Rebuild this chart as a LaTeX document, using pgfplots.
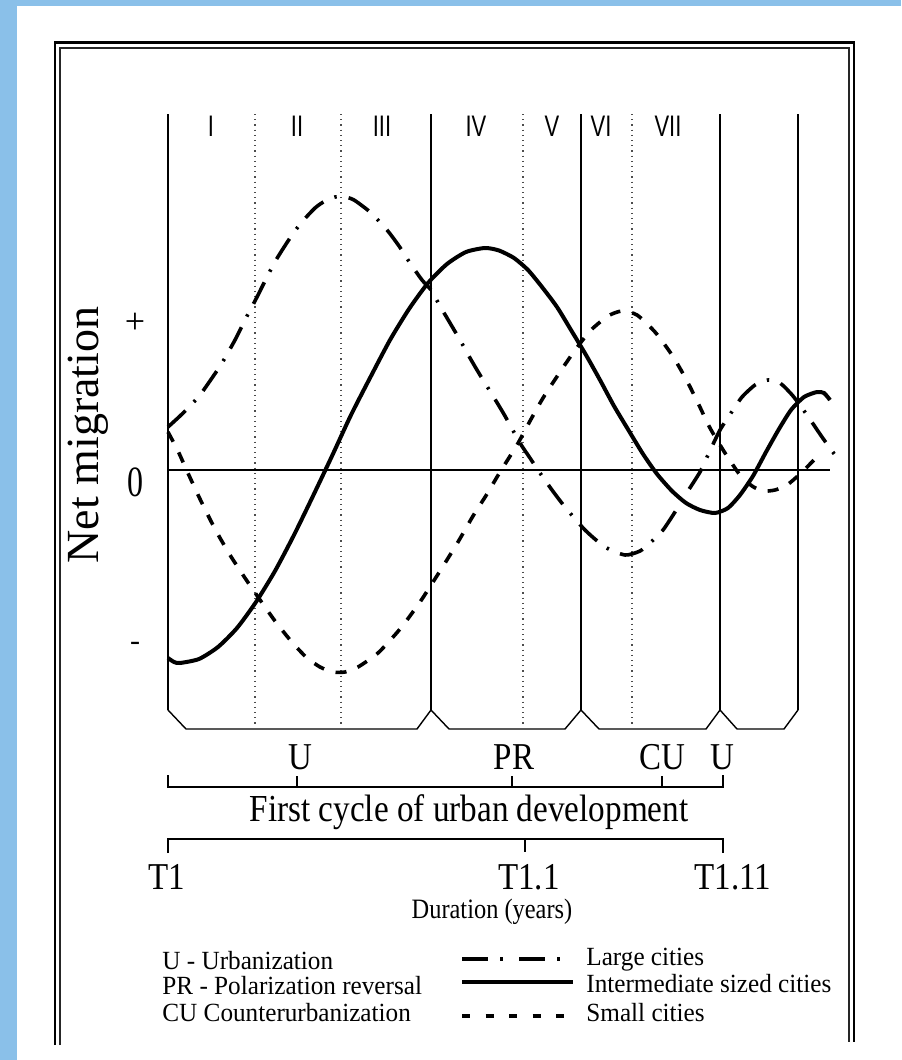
\documentclass[border=0pt]{standalone}
\usepackage{fontspec}
\setmainfont{Liberation Serif}
\newfontfamily\sansf{Liberation Sans}
\usepackage{pgfplots}
\pgfplotsset{compat=1.18}
\definecolor{bluebg}{RGB}{138,192,233}
\newcommand{\fs}[1]{\fontsize{#1}{#1}\selectfont}
\begin{document}
\begin{tikzpicture}[tall/.style={yscale=1.15}, ltall/.style={yscale=1.04}]
\begin{axis}[
  width=450.5pt, height=530pt, scale only axis,
  xmin=0, xmax=901, ymin=0, ymax=1060, y dir=reverse,
  hide axis, clip=false,
]
% background
\fill[white] (0,0) rectangle (901,1060);
\fill[bluebg] (0,0) rectangle (17,1060);
\fill[bluebg] (0,0) rectangle (901,6);
% outer double frame
\draw[line width=1.2pt] (55,1045) -- (55,42.5) -- (854,42.5) -- (854,1042);
\draw[line width=0.9pt, black!85] (60,1045) -- (60,48) -- (849,48) -- (849,1042);
% vertical phase lines
\pgfplotsinvokeforeach{168,431,581,720,798}{\draw[line width=0.7pt] (#1,114) -- (#1,710);}
\pgfplotsinvokeforeach{255,341,523,632}{\draw[line width=0.6pt, dotted, black!70] (#1,114) -- (#1,727);}
% bottom chamfered panels
\draw[line width=0.7pt] (168,710) -- (186,729) -- (417,729) -- (431,710) -- (449,729) -- (565,729) -- (581,710) -- (599,729) -- (706,729) -- (720,710) -- (737,729) -- (784,729) -- (798,710);
% roman numerals
\node[font=\sansf\fs{11}, yscale=1.35] at (211,126) {I};
\node[font=\sansf\fs{11}, yscale=1.35] at (297,126) {II};
\node[font=\sansf\fs{11}, yscale=1.35] at (382,126) {III};
\node[font=\sansf\fs{11}, yscale=1.35] at (476,126) {IV};
\node[font=\sansf\fs{11}, yscale=1.35] at (552,126) {V};
\node[font=\sansf\fs{11}, yscale=1.35] at (601,126) {VI};
\node[font=\sansf\fs{11}, yscale=1.35] at (668,126) {VII};
% zero line
\draw[line width=1pt] (168,470) -- (830,470);

% Large cities (dash-dot)
\addplot[black, line width=1.8pt, smooth, tension=0.4, dash pattern=on 12pt off 6pt on 1.2pt off 6pt] coordinates {
(168,427) (180,416) (190,406) (200,395) (212,378) (222,363) (235,340) (245,320) (257,297) (266,279) (276,260) (290,238) (301,223) (315,208) (325,201) (335,197) (345,197) (354,200) (370,212) (387,230) (399,246) (410,263) (422,280) (431,290) (440,306) (450,323) (460,340) (470,358) (480,375) (493,396) (505,416) (520,443) (530,458) (540,473) (552,490) (565,507) (585,530) (605,547) (625,555) (640,551) (650,543) (663,530) (675,512) (686,494) (700,472) (708,455) (720,430) (733,410) (742,397) (755,385) (768,380) (780,383) (793,396) (807,415) (822,437) (835,455)
};
% Intermediate sized cities (solid)
\addplot[black, line width=2pt, smooth, tension=0.4] coordinates {
(168,658) (174,662) (180,663) (199,659) (218,647) (237,628) (256,602) (275,571) (294,535) (313,496) (332,456) (351,415) (371,376) (390,340) (409,309) (428,283) (447,264) (466,252) (485,248) (499,250.5) (514,258) (528,270) (542,287) (557,307) (571,330) (586,355) (600,380) (614,406) (629,431) (643,454) (657,474) (672,491) (686,503) (700,510) (715,513) (728,508) (740,495) (753,476) (766,452) (779,429) (791,410) (804,397) (817,392) (824,393) (830,400)
};
% Small cities (dashed)
\addplot[black, line width=1.8pt, smooth, tension=0.4, dash pattern=on 5.5pt off 6pt] coordinates {
(168,432) (178,451) (187,471) (200,499) (215,529) (230,555) (245,578) (258,597) (275,621) (291,641) (306,657) (320,667) (333,672) (345,672) (358,667) (378,653) (400,629) (420,602) (440,571) (458,542) (473,516) (487,494) (500,472) (517,445) (530,421) (543,398) (558,375) (573,353) (590,331) (608,316) (622,311) (637,315) (655,332) (672,355) (686,379) (698,403) (710,428) (725,453) (740,475) (752,486) (763,491) (775,490) (787,485) (800,474) (812,462) (822,452)
};

% y labels
\node[rotate=90, font=\fs{23}] at (88,435) {Net migration};
\node[font=\fs{18}] at (135,323) {+};
\node[font=\fs{16}, yscale=1.35] at (135,482) {0};
\node[font=\fs{15}] at (135,646) {-};

% phase letters
\node[font=\fs{16.5}, tall] at (300,757) {U};
\node[font=\fs{16.5}, tall] at (514,757) {PR};
\node[font=\fs{16.5}, tall] at (662,757) {CU};
\node[font=\fs{16.5}, tall] at (722,757) {U};
% upper bracket
\draw[line width=0.7pt] (168,775) -- (168,787) -- (723,787) -- (723,775);
\draw[line width=0.7pt] (297,787) -- (297,776);
\draw[line width=0.7pt] (512,787) -- (512,776);
\draw[line width=0.7pt] (662,787) -- (662,776);
\node[font=\fs{16.6}, tall] at (469,812) {First cycle of urban development};
% lower bracket
\draw[line width=0.9pt] (168,853) -- (168,839) -- (723,839) -- (723,853);
\draw[line width=0.7pt] (525,839) -- (525,852);
\node[font=\fs{16.5}, tall] at (167,877) {T1};
\node[font=\fs{16.5}, tall] at (529,877) {T1.1};
\node[font=\fs{16.5}, tall] at (733,877) {T1.11};
\node[font=\fs{12.2}, tall] at (492,912) {Duration (years)};

% legend
\node[anchor=west, font=\fs{12.6}, inner sep=0pt, ltall] at (162,961) {U - Urbanization};
\node[anchor=west, font=\fs{12.6}, inner sep=0pt, ltall] at (162,986) {PR - Polarization reversal};
\node[anchor=west, font=\fs{12.6}, inner sep=0pt, ltall] at (162,1013) {CU Counterurbanization};
\addplot[black, line width=1.8pt, dash pattern=on 13pt off 6pt on 1.5pt off 8pt] coordinates {(462,959) (573,959)};
\addplot[black, line width=2pt] coordinates {(462,982) (573,982)};
\addplot[black, line width=1.8pt, dash pattern=on 4pt off 7.75pt] coordinates {(462,1016) (573,1016)};
\node[anchor=west, font=\fs{12.6}, inner sep=0pt, ltall] at (586,960) {Large cities};
\node[anchor=west, font=\fs{12.6}, inner sep=0pt, ltall] at (586,984) {Intermediate sized cities};
\node[anchor=west, font=\fs{12.6}, inner sep=0pt, ltall] at (586,1013) {Small cities};
\end{axis}
\end{tikzpicture}
\end{document}
